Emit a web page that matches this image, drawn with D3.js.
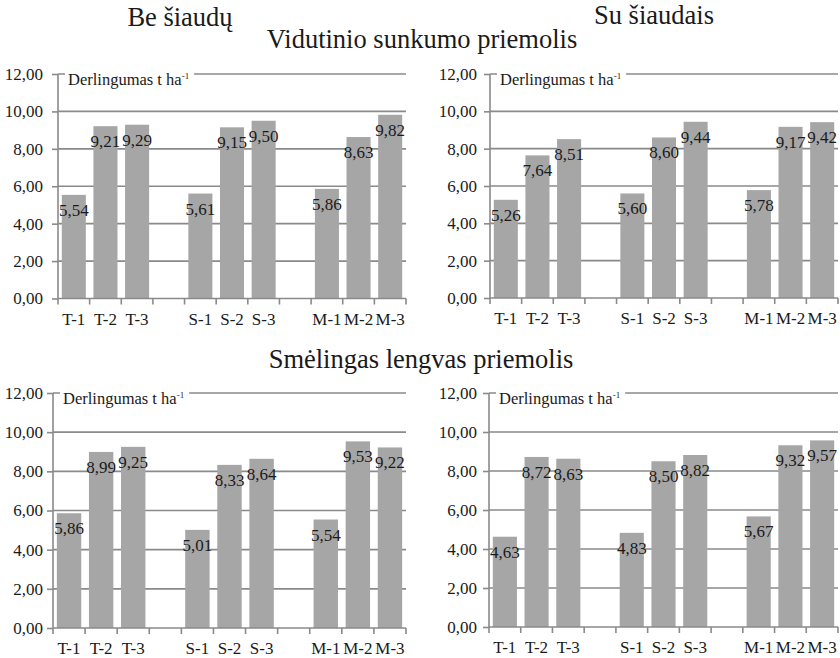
<!DOCTYPE html>
<html>
<head>
<meta charset="utf-8">
<script src="https://cdn.jsdelivr.net/npm/d3@7"></script>
<style>
  html, body { margin: 0; padding: 0; background: #fff; }
  svg { display: block; }
  text { font-family: "Liberation Serif", "Times New Roman", serif; fill: #1a1a1a; }
</style>
</head>
<body>
<svg id="chart" width="840" height="658"></svg>
<script>
// ---- data ----
const categoryKeys   = ["T-1","T-2","T-3","gap1","S-1","S-2","S-3","gap2","M-1","M-2","M-3"];
const categoryLabels = ["T-1","T-2","T-3","","S-1","S-2","S-3","","M-1","M-2","M-3"];
const barCategories  = ["T-1","T-2","T-3","S-1","S-2","S-3","M-1","M-2","M-3"];
const yTicks = [0, 2, 4, 6, 8, 10, 12];
const yMax = 12;

const valuesMediumBe = [5.54, 9.21, 9.29, 5.61, 9.15, 9.50, 5.86, 8.63, 9.82];
const valuesMediumSu = [5.26, 7.64, 8.51, 5.60, 8.60, 9.44, 5.78, 9.17, 9.42];
const valuesSandyBe  = [5.86, 8.99, 9.25, 5.01, 8.33, 8.64, 5.54, 9.53, 9.22];
const valuesSandySu  = [4.63, 8.72, 8.63, 4.83, 8.50, 8.82, 5.67, 9.32, 9.57];

const columnTitles = ["Be šiaudų", "Su šiaudais"];
const rowTitles = ["Vidutinio sunkumo priemolis", "Smėlingas lengvas priemolis"];
const axisTitle = "Derlingumas t ha";
const axisTitleSup = "-1";

// ---- layout ----
const panels = [
  { values: valuesMediumBe, x0: 58,  x1: 406, yTop: 74,  yBot: 298.5, labelGap: 15 },
  { values: valuesMediumSu, x0: 490, x1: 838, yTop: 74,  yBot: 298,   labelGap: 13 },
  { values: valuesSandyBe,  x0: 53,  x1: 406, yTop: 393, yBot: 628,   labelGap: 10 },
  { values: valuesSandySu,  x0: 489, x1: 838, yTop: 393, yBot: 627,   labelGap: 12 }
];

const svg = d3.select("#chart");
const barColor = "#a6a6a6";
const gridColor = "#8a8a8a";
const fmt = v => d3.format(".2f")(v).replace(".", ",");

// titles
const titleSize = "26.5px";
svg.append("text").attr("x", 180).attr("y", 26).attr("text-anchor", "middle")
  .style("font-size", titleSize).text(columnTitles[0]);
svg.append("text").attr("x", 654).attr("y", 24).attr("text-anchor", "middle")
  .style("font-size", titleSize).text(columnTitles[1]);
svg.append("text").attr("x", 422).attr("y", 48).attr("text-anchor", "middle")
  .style("font-size", titleSize).text(rowTitles[0]);
svg.append("text").attr("x", 421).attr("y", 368).attr("text-anchor", "middle")
  .style("font-size", titleSize).text(rowTitles[1]);

panels.forEach(p => {
  const g = svg.append("g");
  const x = d3.scaleBand().domain(categoryKeys).range([p.x0, p.x1])
    .paddingInner(0.24).paddingOuter(0.12);
  const y = d3.scaleLinear().domain([0, yMax]).range([p.yBot, p.yTop]);

  // gridlines
  g.selectAll("line.grid").data(yTicks.filter(t => t > 0)).join("line")
    .attr("class", "grid")
    .attr("x1", p.x0).attr("x2", p.x1)
    .attr("y1", d => y(d)).attr("y2", d => y(d))
    .attr("stroke", gridColor).attr("stroke-width", 1.6);

  // y axis
  const yAxis = d3.axisLeft(y).tickValues(yTicks).tickSize(6).tickPadding(p.labelGap - 6)
    .tickFormat(fmt);
  const ya = g.append("g").attr("transform", `translate(${p.x0},0)`).call(yAxis);
  ya.select(".domain").attr("stroke", gridColor).attr("stroke-width", 1.6).attr("d", `M0,${p.yBot}V${p.yTop}`);
  ya.selectAll(".tick line").attr("stroke", gridColor).attr("stroke-width", 1.6);
  ya.selectAll(".tick text").style("font-size", "17px").style("font-family", "Liberation Serif, serif").attr("fill", "#1a1a1a");

  // axis title with white box
  const box = g.append("rect");
  const tt = g.append("text").attr("x", p.x0 + 10).attr("y", y(yMax) + 11)
    .style("font-size", "16.5px");
  tt.append("tspan").text(axisTitle);
  tt.append("tspan").attr("dy", -6).style("font-size", "9px").text(axisTitleSup);
  const bb = tt.node().getBBox();
  box.attr("x", p.x0 + 7).attr("y", y(yMax) - 3)
    .attr("width", bb.width + 8).attr("height", 8).attr("fill", "#fff");

  // bars
  const data = barCategories.map((c, i) => ({ c, v: p.values[i] }));
  g.selectAll("rect.bar").data(data).join("rect")
    .attr("class", "bar")
    .attr("x", d => x(d.c)).attr("width", x.bandwidth())
    .attr("y", d => y(d.v)).attr("height", d => y(0) - y(d.v))
    .attr("fill", barColor);

  // x axis baseline + boundary ticks
  const step = x.step();
  const bounds = d3.range(categoryKeys.length + 1).map(i => x(categoryKeys[0]) - step * x.paddingInner() / 2 + i * step);
  g.append("line").attr("x1", p.x0).attr("x2", p.x1).attr("y1", y(0)).attr("y2", y(0))
    .attr("stroke", gridColor).attr("stroke-width", 1.6);
  g.selectAll("line.xt").data(bounds).join("line")
    .attr("class", "xt")
    .attr("x1", d => d).attr("x2", d => d).attr("y1", y(0)).attr("y2", y(0) + 6)
    .attr("stroke", gridColor).attr("stroke-width", 1.6);

  // x labels
  g.selectAll("text.xl").data(categoryKeys).join("text")
    .attr("class", "xl")
    .attr("x", d => x(d) + x.bandwidth() / 2).attr("y", y(0) + 26)
    .attr("text-anchor", "middle").style("font-size", "17px")
    .text((d, i) => categoryLabels[i]);

  // value labels
  g.selectAll("text.vl").data(data).join("text")
    .attr("class", "vl")
    .attr("x", d => x(d.c) + x.bandwidth() / 2).attr("y", d => y(d.v) + 21)
    .attr("text-anchor", "middle").style("font-size", "17px")
    .text(d => fmt(d.v));
});
</script>
</body>
</html>
